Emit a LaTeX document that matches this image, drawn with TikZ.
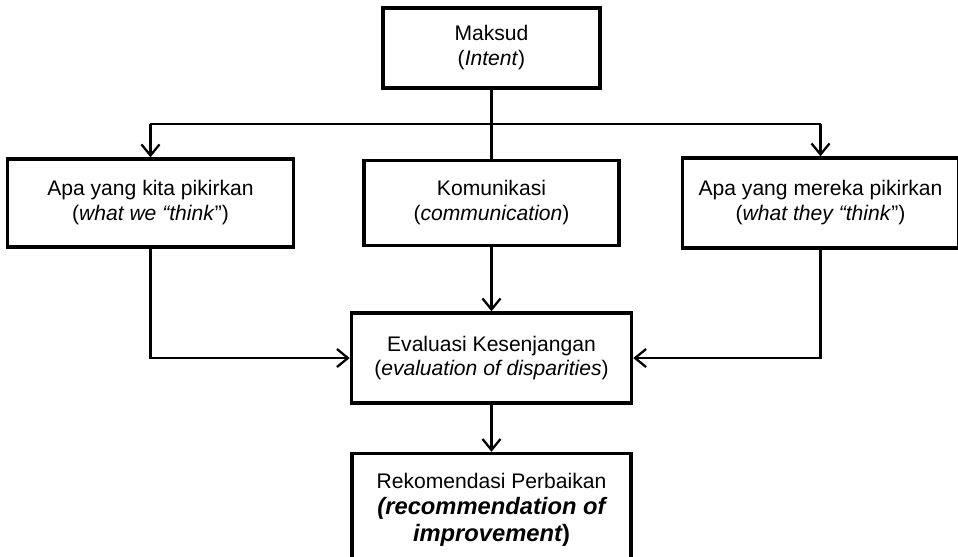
\documentclass[tikz,border=0pt]{standalone}
\usepackage{fontspec}
\setmainfont{Liberation Sans}
\usetikzlibrary{arrows.meta, positioning}

\begin{document}
\begin{tikzpicture}[
    node distance=1.38cm and 1.3cm,
    box/.style={rectangle, draw=black, line width=2pt, align=center, inner sep=3pt, font=\fontsize{12}{14.2}\selectfont},
    link/.style={line width=1.3pt, draw=black},
    arrow/.style={link, -{Straight Barb[length=2.2mm, width=3.6mm]}}
]
\useasboundingbox (-9.83,0.96) rectangle (9.33,-10.18);

% Nodes
\node[box, minimum width=4.34cm, minimum height=1.6cm] (intent) {Maksud\\(\textit{Intent})};

\node[box, minimum width=5.1cm, minimum height=1.7cm, below=1.38cm of intent] (comm) {Komunikasi\\(\textit{communication})};
\node[box, minimum width=5.72cm, minimum height=1.76cm, left=1.34cm of comm] (we) {Apa yang kita pikirkan\\(\textit{what we “think}”)};
\node[box, minimum width=5.52cm, minimum height=1.8cm, right=1.2cm of comm] (they) {Apa yang mereka pikirkan\\(\textit{what they “think}”)};

\node[box, minimum width=5.6cm, minimum height=1.8cm, below=1.28cm of comm] (eval) {Evaluasi Kesenjangan\\(\textit{evaluation of disparities})};
\node[box, minimum width=5.58cm, minimum height=2.24cm, below=0.94cm of eval] (rec) {Rekomendasi Perbaikan\\[1pt]{\fontsize{13.5}{16}\selectfont\bfseries\itshape (recommendation of}\\[1pt]{\fontsize{13.5}{16}\selectfont\bfseries\itshape improvement\upshape)}};

\coordinate[below=0.68cm of intent] (bus);

% Arrows
\draw[link] (intent) -- (comm);
\draw[link] (we.north |- bus) -- (they.north |- bus);
\draw[arrow] (we.north |- bus) -- (we.north);
\draw[arrow] (they.north |- bus) -- (they.north);

\draw[arrow] (comm) -- (eval);
\draw[arrow] (we.south) |- (eval.west);
\draw[arrow] (they.south) |- (eval.east);

\draw[arrow] (eval) -- (rec);

\end{tikzpicture}
\end{document}
